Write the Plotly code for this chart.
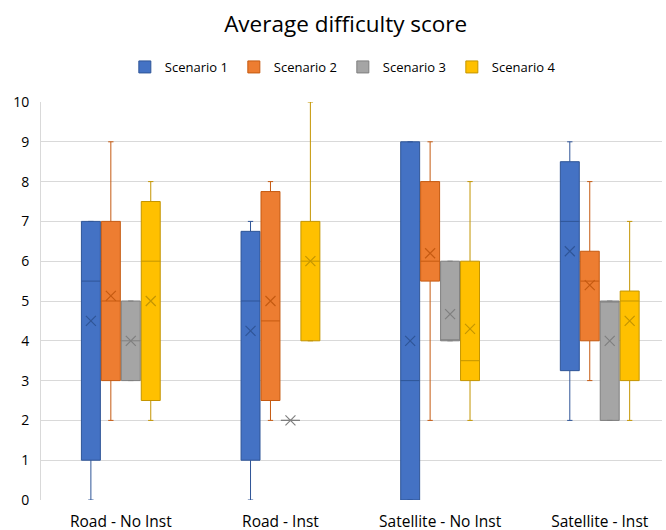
import plotly.graph_objects as go

# Categories and series
categories = ["Road - No Inst", "Road - Inst", "Satellite - No Inst", "Satellite - Inst"]
series_names = ["Scenario 1", "Scenario 2", "Scenario 3", "Scenario 4"]

# Five-number summaries and means per scenario (one value per category)
s1_low = [0, 0, 0, 2]
s1_q1 = [1, 1, 0, 3.25]
s1_med = [5.5, 5, 3, 7]
s1_q3 = [7, 6.75, 9, 8.5]
s1_high = [7, 7, 9, 9]
s1_mean = [4.5, 4.25, 4.0, 6.25]

s2_low = [2, 2, 2, 3]
s2_q1 = [3, 2.5, 5.5, 4]
s2_med = [5, 4.5, 6, 5.5]
s2_q3 = [7, 7.75, 8, 6.25]
s2_high = [9, 8, 9, 8]
s2_mean = [5.13, 5.0, 6.2, 5.4]

s3_low = [3, 2, 4, 2]
s3_q1 = [3, 2, 4, 2]
s3_med = [4, 2, 4, 5]
s3_q3 = [5, 2, 6, 5]
s3_high = [5, 2, 6, 5]
s3_mean = [4.0, 2.0, 4.67, 4.0]

s4_low = [2, 4, 2, 2]
s4_q1 = [2.5, 4, 3, 3]
s4_med = [6, 6, 3.5, 5]
s4_q3 = [7.5, 7, 6, 5.25]
s4_high = [8, 10, 8, 7]
s4_mean = [5.0, 6.0, 4.3, 4.5]

fills = ["#4472C4", "#ED7D31", "#A5A5A5", "#FFC000"]
edges = ["#2F5597", "#C55A11", "#7F7F7F", "#C49500"]

stats = [
    (s1_low, s1_q1, s1_med, s1_q3, s1_high, s1_mean),
    (s2_low, s2_q1, s2_med, s2_q3, s2_high, s2_mean),
    (s3_low, s3_q1, s3_med, s3_q3, s3_high, s3_mean),
    (s4_low, s4_q1, s4_med, s4_q3, s4_high, s4_mean),
]

fig = go.Figure()

for i, (name, (lo, q1, med, q3, hi, mean)) in enumerate(zip(series_names, stats)):
    fig.add_trace(go.Box(
        name=name,
        x=categories,
        lowerfence=lo, q1=q1, median=med, q3=q3, upperfence=hi,
        fillcolor=fills[i],
        line=dict(color=edges[i], width=1),
        whiskerwidth=0.28,
        offsetgroup=str(i),
        legendgroup=name,
        hoverinfo="skip",
    ))

# Mean markers drawn as X symbols inside each box
for i, (name, st) in enumerate(zip(series_names, stats)):
    fig.add_trace(go.Scatter(
        x=categories,
        y=st[5],
        mode="markers",
        marker=dict(symbol="x-thin-open", size=10,
                    line=dict(color=edges[i], width=1.2), color=edges[i]),
        offsetgroup=str(i),
        legendgroup=name,
        showlegend=False,
        hoverinfo="skip",
    ))

fig.update_layout(
    width=666, height=530,
    margin=dict(l=41, r=4, t=102, b=30),
    paper_bgcolor="white",
    plot_bgcolor="white",
    font=dict(family="Open Sans, sans-serif", color="#000000"),
    title=dict(text="Average difficulty score", x=0.519, xanchor="center",
               y=0.955, yanchor="middle",
               font=dict(size=22.5, color="#000000")),
    boxmode="group",
    boxgap=0.5,
    boxgroupgap=0.05,
    scattermode="group",
    scattergap=0.5,
    legend=dict(orientation="h", x=0.135, xanchor="left", y=1.088, yanchor="middle",
                font=dict(size=13, color="#000000"), itemwidth=30,
                entrywidth=64, entrywidthmode="pixels",
                traceorder="normal"),
    showlegend=True,
)

fig.update_xaxes(
    type="category",
    range=[-0.5, 3.39],
    showgrid=False,
    showline=False,
    zeroline=False,
    ticks="",
    automargin=False,
    ticklabelstandoff=10,
    tickfont=dict(size=15.5, color="#000000"),
)
fig.update_yaxes(
    range=[0, 10],
    dtick=1,
    showgrid=True,
    gridcolor="#D9D9D9",
    gridwidth=1,
    zeroline=False,
    showline=True,
    linecolor="#D9D9D9",
    linewidth=1,
    ticks="",
    automargin=False,
    ticklabelstandoff=8,
    tickfont=dict(size=14, color="#000000"),
)

fig.write_html("out.html")
